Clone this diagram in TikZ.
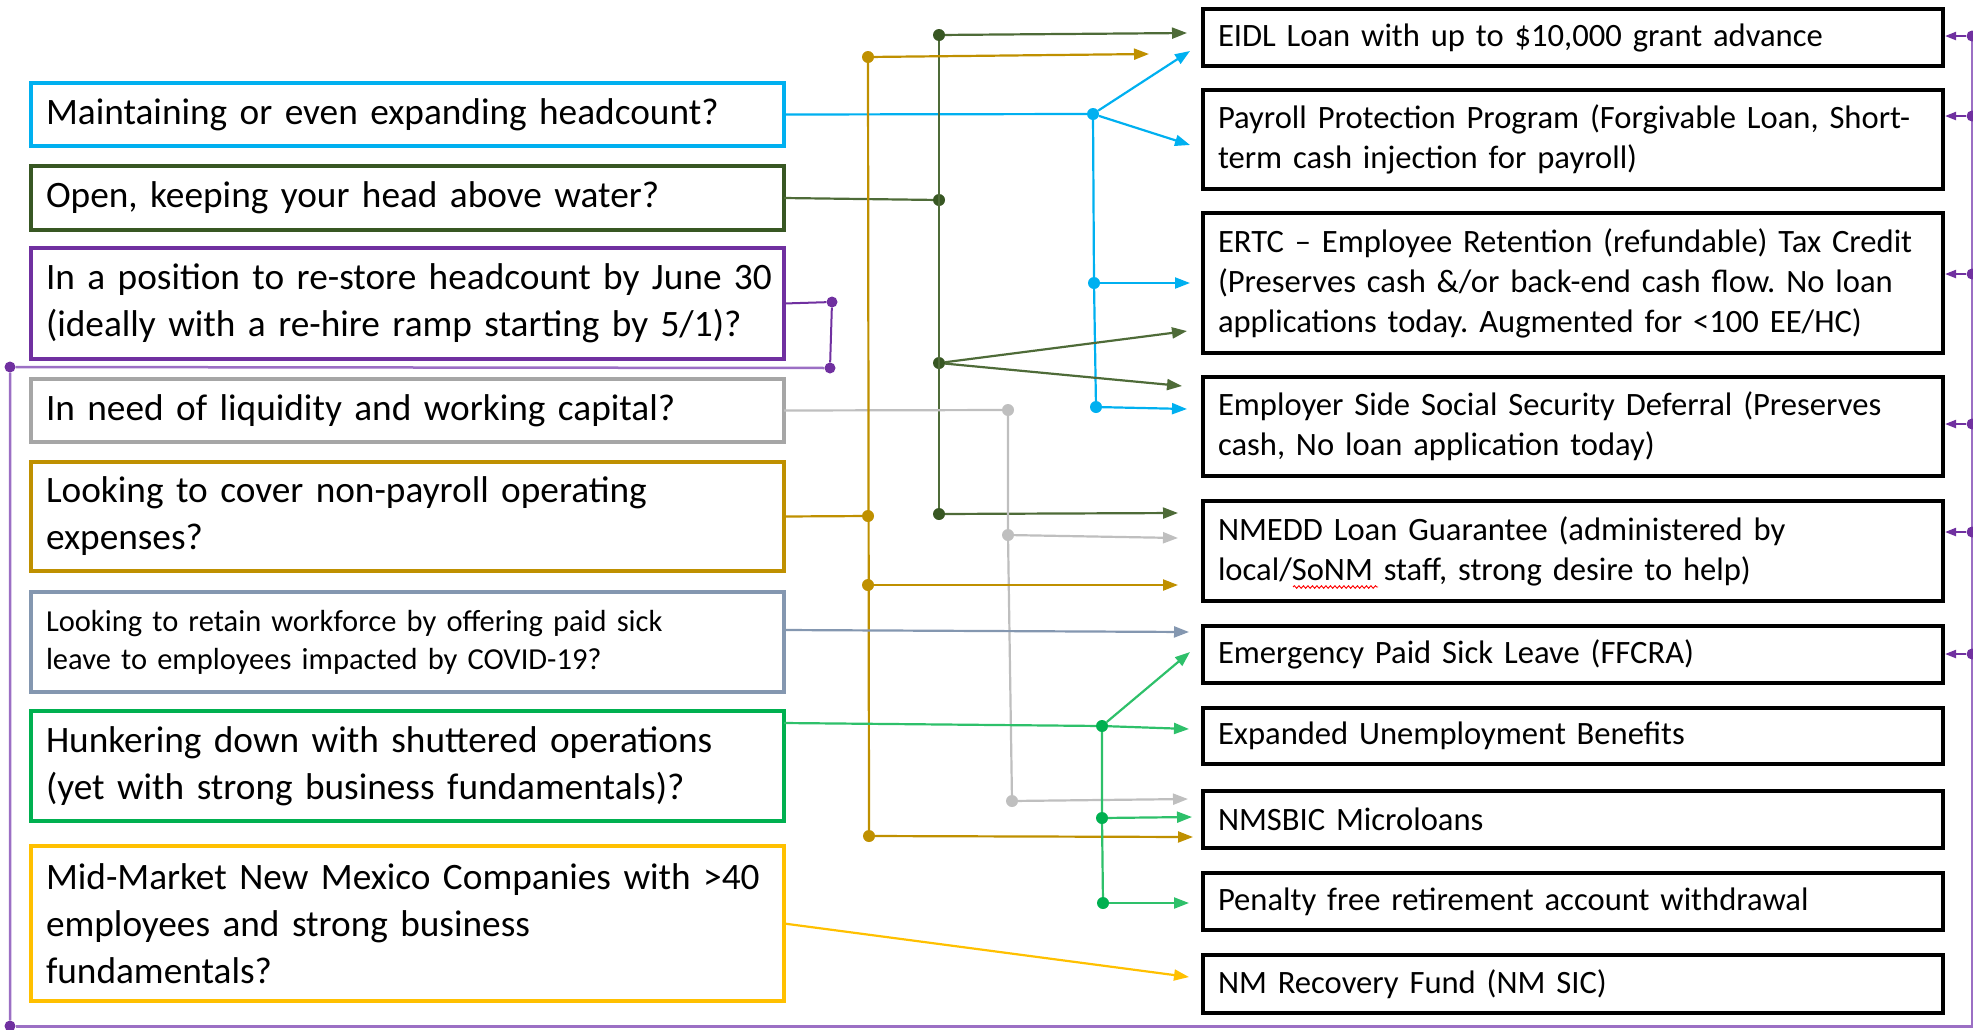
\documentclass[tikz,border=0pt]{standalone}
\usepackage{fontspec}
\setmainfont{Carlito}
\usetikzlibrary{arrows.meta,decorations.pathmorphing}
\definecolor{cyanC}{HTML}{00B0F0}
\definecolor{dgreenC}{HTML}{385723}
\definecolor{dgreenL}{HTML}{4E6B38}
\definecolor{purpC}{HTML}{7030A0}
\definecolor{purpL}{HTML}{9B6FC4}
\definecolor{grayC}{HTML}{A6A6A6}
\definecolor{grayL}{HTML}{BFBFBF}
\definecolor{goldC}{HTML}{BF9000}
\definecolor{slateC}{HTML}{8497B0}
\definecolor{greenC}{HTML}{00B050}
\definecolor{greenL}{HTML}{2EC06A}
\definecolor{yellowC}{HTML}{FFC000}
\frenchspacing
\begin{document}
\begin{tikzpicture}[x=1pt,y=-1pt,
  lbox/.style={draw=#1, line width=4pt, outer sep=0pt, anchor=north west,
    minimum width=753pt, text width=723pt, inner xsep=15pt, inner ysep=0pt,
    align=left, font=\fontsize{37.3}{47}\selectfont},
  rbox/.style={draw=black, line width=4.5pt, outer sep=0pt, anchor=north west,
    minimum width=740pt, text width=710pt, inner xsep=15pt, inner ysep=0pt,
    align=left, font=\fontsize{32.6}{40}\selectfont},
  plain/.style={draw=#1, line width=2.2pt},
  conn/.style={draw=#1, line width=2.2pt, -{Triangle[length=15pt,width=11pt]}},
  pconn/.style={draw=purpC, line width=2pt, -{Triangle[length=11pt,width=8pt]}},
  dot/.style={circle, fill=#1, inner sep=0pt, minimum size=12pt},
  sdot/.style={circle, fill=purpC, inner sep=0pt, minimum size=11pt}
]
\useasboundingbox (0,0) rectangle (1973,1029);

% ---------- left boxes ----------
\node[lbox=cyanC, minimum height=63pt] (q1) at (31,83) {Maintaining or even expanding headcount?};
\node[lbox=dgreenC, minimum height=64pt] (q2) at (31,166) {Open, keeping your head above water?};
\node[lbox=purpC, minimum height=111pt] (q3) at (31,248) {\mbox{In a position to re-store headcount by June 30}\\\mbox{(ideally with a re-hire ramp starting by 5/1)?}};
\node[lbox=grayC, minimum height=63pt] (q4) at (31,379) {In need of liquidity and working capital?};
\node[lbox=goldC, minimum height=109pt] (q5) at (31,462) {\mbox{Looking to cover non-payroll operating}\\\mbox{expenses?}};
\node[lbox=slateC, minimum height=100pt, font=\fontsize{30.5}{38}\selectfont] (q6) at (31,592) {\mbox{Looking to retain workforce by offering paid sick}\\\mbox{leave to employees impacted by COVID-19?}};
\node[lbox=greenC, minimum height=110pt] (q7) at (31,711) {\mbox{Hunkering down with shuttered operations}\\\mbox{(yet with strong business fundamentals)?}};
\node[lbox=yellowC, minimum height=155pt] (q8) at (31,846) {\mbox{Mid-Market New Mexico Companies with >40}\\\mbox{employees and strong business}\\\mbox{fundamentals?}};

% ---------- right boxes ----------
\node[rbox, minimum height=57pt] (r1) at (1203,9) {\mbox{EIDL Loan with up to \$10,000 grant advance}};
\node[rbox, minimum height=99pt] (r2) at (1203,90) {\mbox{Payroll Protection Program (Forgivable Loan, Short-}\\\mbox{term cash injection for payroll)}};
\node[rbox, minimum height=140pt] (r3) at (1203,213) {\mbox{ERTC – Employee Retention (refundable) Tax Credit}\\\mbox{(Preserves cash \&/or back-end cash flow. No loan}\\\mbox{applications today. Augmented for <100 EE/HC)}};
\node[rbox, minimum height=99pt] (r4) at (1203,377) {\mbox{Employer Side Social Security Deferral (Preserves}\\\mbox{cash, No loan application today)}};
\node[rbox, minimum height=100pt] (r5) at (1203,501) {\mbox{NMEDD Loan Guarantee (administered by}\\\mbox{local/SoNM staff, strong desire to help)}};
\node[rbox, minimum height=57pt] (r6) at (1203,626) {Emergency Paid Sick Leave (FFCRA)};
\node[rbox, minimum height=56pt] (r7) at (1203,708) {Expanded Unemployment Benefits};
\node[rbox, minimum height=57pt] (r8) at (1203,791) {NMSBIC Microloans};
\node[rbox, minimum height=57pt] (r9) at (1203,873) {Penalty free retirement account withdrawal};
\node[rbox, minimum height=58pt] (r10) at (1203,955) {NM Recovery Fund (NM SIC)};

% spell-check squiggle under "SoNM"
\coordinate (sq1) at (1293,587);
\coordinate (sq2) at (1378,587);
\draw[red, line width=0.9pt, decorate, decoration={snake,amplitude=1.3pt,segment length=4.5pt}] (sq1) -- (sq2);

% ---------- junction dots ----------
\node[dot=cyanC] (c1) at (1093,114) {};
\node[dot=cyanC] (c2) at (1094,283) {};
\node[dot=cyanC] (c3) at (1096,407) {};
\node[dot=dgreenC] (g1) at (939,35) {};
\node[dot=dgreenC] (g2) at (939,200) {};
\node[dot=dgreenC] (g3) at (939,363) {};
\node[dot=dgreenC] (g4) at (939,514) {};
\node[sdot] (p1) at (832,302) {};
\node[sdot] (p2) at (830,368) {};
\node[sdot] (p3) at (10,367) {};
\node[sdot] (p4) at (10,1026) {};
\node[dot=grayL] (a1) at (1008,410) {};
\node[dot=grayL] (a2) at (1008,535) {};
\node[dot=grayL] (a3) at (1012,801) {};
\node[dot=goldC] (o1) at (868,57) {};
\node[dot=goldC] (o2) at (868,516) {};
\node[dot=goldC] (o3) at (868,585) {};
\node[dot=goldC] (o4) at (869,836) {};
\node[dot=greenC] (e1) at (1102,726) {};
\node[dot=greenC] (e2) at (1102,818) {};
\node[dot=greenC] (e3) at (1103,903) {};

% ---------- arrow ends ----------
\coordinate (ct1) at (1190,51);
\coordinate (ct2) at (1190,145);
\coordinate (ct3) at (1190,283);
\coordinate (ct4) at (1187,409);
\coordinate (gt1) at (1187,33);
\coordinate (gt2) at (1187,331);
\coordinate (gt3) at (1182,386);
\coordinate (gt4) at (1178,513);
\coordinate (at1) at (1178,538);
\coordinate (at2) at (1188,799);
\coordinate (ot1) at (1149,54);
\coordinate (ot2) at (1178,585);
\coordinate (ot3) at (1193,837);
\coordinate (st1) at (1189,632);
\coordinate (et1) at (1190,652);
\coordinate (et2) at (1189,729);
\coordinate (et3) at (1192,817);
\coordinate (et4) at (1189,903);
\coordinate (yt1) at (1189,977);
\coordinate (pcorner) at (1972,1026);
\coordinate (ptop) at (1972,36);

% ---------- cyan ----------
\draw[plain=cyanC] (q1.east) -- (c1);
\draw[plain=cyanC] (c1) -- (c2) -- (c3);
\draw[conn=cyanC] (c1) -- (ct1);
\draw[conn=cyanC] (c1) -- (ct2);
\draw[conn=cyanC] (c2) -- (ct3);
\draw[conn=cyanC] (c3) -- (ct4);

% ---------- dark green ----------
\draw[plain=dgreenL] (q2.east) -- (g2);
\draw[plain=dgreenL] (g1) -- (g4);
\draw[conn=dgreenL] (g1) -- (gt1);
\draw[conn=dgreenL] (g3) -- (gt2);
\draw[conn=dgreenL] (g3) -- (gt3);
\draw[conn=dgreenL] (g4) -- (gt4);

% ---------- purple ----------
\draw[draw=purpC, line width=2pt] (q3.east) -- (p1) -- (p2);
\draw[draw=purpL, line width=2.5pt] (p2) -- (p3) -- (p4);
\draw[draw=purpL, line width=3pt] (p4) -- (pcorner) -- (ptop);
\foreach \yy/\nm in {36/1,116/2,274/3,424/4,532/5,654/6}{
  \node[sdot] (pr\nm) at (1972,\yy) {};
  \coordinate (pt\nm) at (1945,\yy);
  \draw[pconn] (pr\nm) -- (pt\nm);
}

% ---------- gray ----------
\draw[plain=grayL] (q4.east) -- (a1);
\draw[plain=grayL] (a1) -- (a2) -- (a3);
\draw[conn=grayL] (a2) -- (at1);
\draw[conn=grayL] (a3) -- (at2);

% ---------- gold ----------
\draw[plain=goldC] (q5.east) -- (o2);
\draw[plain=goldC] (o1) -- (o4);
\draw[conn=goldC] (o1) -- (ot1);
\draw[conn=goldC] (o3) -- (ot2);
\draw[conn=goldC] (o4) -- (ot3);

% ---------- slate ----------
\draw[conn=slateC] ([yshift=12pt]q6.east) -- (st1);

% ---------- green ----------
\draw[plain=greenL] ([yshift=43pt]q7.east) -- (e1);
\draw[plain=greenL] (e1) -- (e2) -- (e3);
\draw[conn=greenL] (e1) -- (et1);
\draw[conn=greenL] (e1) -- (et2);
\draw[conn=greenL] (e2) -- (et3);
\draw[conn=greenL] (e3) -- (et4);

% ---------- yellow ----------
\draw[conn=yellowC] (q8.east) -- (yt1);
\end{tikzpicture}
\end{document}
